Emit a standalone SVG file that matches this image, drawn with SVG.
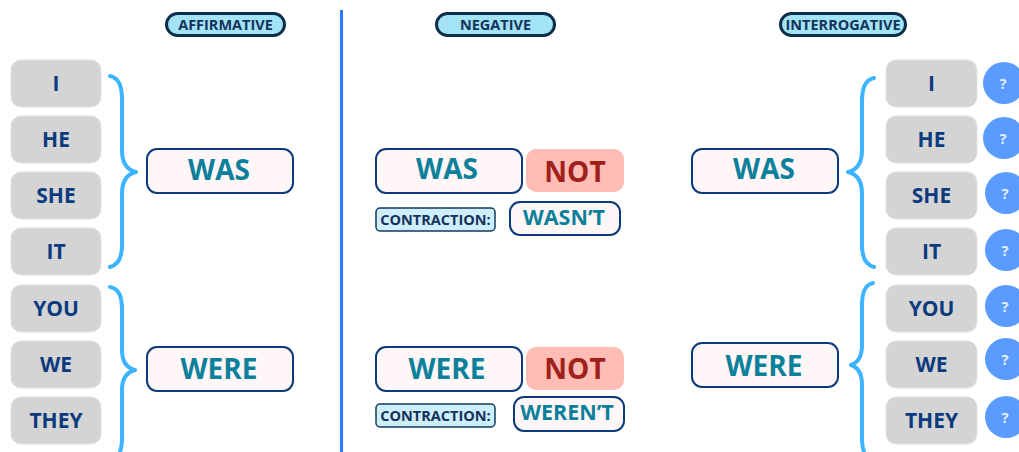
<svg xmlns="http://www.w3.org/2000/svg" width="1019" height="452" viewBox="0 0 1019 452">
<style>
text{font-family:"Open Sans","Liberation Sans",sans-serif;font-weight:700;text-anchor:middle}
.pill{fill:#a3e3f6;stroke:#0c2e4c;stroke-width:3}
.pillt{font-size:14.5px;fill:#15325a}
.pro{fill:#d4d4d4;stroke:#e2e2e2;stroke-width:1}
.prot{font-size:21px;fill:#0c3a7e}
.verb{fill:#fff6f7;stroke:#0d3a7a;stroke-width:2}
.verbt{font-size:28px;fill:#0a809b}
.not{fill:#ffbdb6}
.nott{font-size:28px;fill:#a0201a}
.con{fill:#cdeefb;stroke:#123a5a;stroke-width:1.5}
.cont{font-size:14.5px;fill:#15325a}
.short{font-size:21.5px;fill:#0a809b}
.brace{fill:none;stroke:#3db4ff;stroke-width:4;stroke-linecap:round;stroke-linejoin:round}
.q{fill:#5a9bff}
.qt{font-size:15px;fill:#e4eeff}
</style>
<rect width="1019" height="452" fill="#ffffff"/>
<g id="connectors">
<line x1="341.5" y1="10" x2="341.5" y2="452" stroke="#2a7cff" stroke-width="3"/>
<path class="brace" d="M110,76 C119,78 122,86 122,100 L122,150 C122,163 127,170 136,172 C127,174 122,181 122,194 L122,245 C122,258 118,265 110,267"/>
<path class="brace" d="M110,287 C119,289 122,296 122,310 L122,350 C122,362 127,368 135,370 C127,372 122,378 122,390 L122,440 C122,450 119,456 115,462"/>
<path class="brace" d="M874,78 C865,80 862,88 862,102 L862,150 C862,163 857,170 848,172 C857,174 862,181 862,194 L862,245 C862,258 866,265 874,267"/>
<path class="brace" d="M873,283 C865,285 862,292 862,306 L862,345 C862,357 857,363 851,365 C857,367 862,373 862,385 L862,440 C862,450 865,456 869,462"/>
</g>
<g id="header-affirmative"><rect class="pill" x="166.5" y="13.5" width="118" height="22" rx="11"/><text class="pillt" x="225.5" y="29.5">AFFIRMATIVE</text></g>
<g id="header-negative"><rect class="pill" x="436.5" y="13.5" width="118" height="22" rx="11"/><text class="pillt" x="495.5" y="29.5">NEGATIVE</text></g>
<g id="header-interrogative"><rect class="pill" x="780.5" y="13.5" width="125" height="22" rx="11"/><text class="pillt" x="843" y="29.5">INTERROGATIVE</text></g>

<g id="left-i"><rect class="pro" x="11" y="60" width="90" height="47" rx="10"/><text class="prot" x="56" y="91">I</text></g>
<g id="left-he"><rect class="pro" x="11" y="116" width="90" height="47" rx="10"/><text class="prot" x="56" y="147">HE</text></g>
<g id="left-she"><rect class="pro" x="11" y="172" width="90" height="47" rx="10"/><text class="prot" x="56" y="203">SHE</text></g>
<g id="left-it"><rect class="pro" x="11" y="228" width="90" height="47" rx="10"/><text class="prot" x="56" y="259">IT</text></g>
<g id="left-you"><rect class="pro" x="11" y="285" width="90" height="47" rx="10"/><text class="prot" x="56" y="316">YOU</text></g>
<g id="left-we"><rect class="pro" x="11" y="341" width="90" height="47" rx="10"/><text class="prot" x="56" y="372">WE</text></g>
<g id="left-they"><rect class="pro" x="11" y="397" width="90" height="47" rx="10"/><text class="prot" x="56" y="428">THEY</text></g>

<g id="aff-was"><rect class="verb" x="147" y="149" width="146" height="44" rx="10"/><text class="verbt" x="219" y="180">WAS</text></g>
<g id="aff-were"><rect class="verb" x="147" y="347" width="146" height="44" rx="10"/><text class="verbt" x="219" y="378.5">WERE</text></g>

<g id="neg-was"><rect class="verb" x="376" y="149" width="146" height="44" rx="10"/><text class="verbt" x="447" y="179">WAS</text></g>
<g id="neg-was-not"><rect class="not" x="526" y="149" width="98" height="43" rx="10"/><text class="nott" x="575" y="181.5">NOT</text></g>
<g id="neg-was-contraction-label"><rect class="con" x="376" y="208" width="119" height="23" rx="4"/><text class="cont" x="435.5" y="224.5">CONTRACTION:</text></g>
<g id="neg-wasnt"><rect class="verb" x="510" y="202" width="110" height="33" rx="10"/><text class="short" x="564" y="225">WASN’T</text></g>

<g id="neg-were"><rect class="verb" x="376" y="347" width="146" height="44" rx="10"/><text class="verbt" x="447" y="378.5">WERE</text></g>
<g id="neg-were-not"><rect class="not" x="526" y="347" width="98" height="43" rx="10"/><text class="nott" x="575" y="378.5">NOT</text></g>
<g id="neg-were-contraction-label"><rect class="con" x="376" y="404" width="119" height="23" rx="4"/><text class="cont" x="435.5" y="420.5">CONTRACTION:</text></g>
<g id="neg-werent"><rect class="verb" x="514" y="397" width="110" height="34" rx="10"/><text class="short" x="567" y="420">WEREN’T</text></g>

<g id="int-was"><rect class="verb" x="692" y="149" width="146" height="44" rx="10"/><text class="verbt" x="764" y="179">WAS</text></g>
<g id="int-were"><rect class="verb" x="692" y="343" width="146" height="44" rx="10"/><text class="verbt" x="764" y="375.5">WERE</text></g>

<g id="right-i"><rect class="pro" x="886" y="60" width="91" height="47" rx="10"/><text class="prot" x="931.5" y="91">I</text><circle class="q" cx="1004" cy="83" r="21"/><text class="qt" x="1003" y="88.5">?</text></g>
<g id="right-he"><rect class="pro" x="886" y="116" width="91" height="47" rx="10"/><text class="prot" x="931.5" y="147">HE</text><circle class="q" cx="1004" cy="138" r="21"/><text class="qt" x="1003" y="143.5">?</text></g>
<g id="right-she"><rect class="pro" x="886" y="172" width="91" height="47" rx="10"/><text class="prot" x="931.5" y="203">SHE</text><circle class="q" cx="1006" cy="193" r="21"/><text class="qt" x="1005" y="198.5">?</text></g>
<g id="right-it"><rect class="pro" x="886" y="228" width="91" height="47" rx="10"/><text class="prot" x="931.5" y="259">IT</text><circle class="q" cx="1006" cy="250" r="21"/><text class="qt" x="1005" y="255.5">?</text></g>
<g id="right-you"><rect class="pro" x="886" y="285" width="91" height="47" rx="10"/><text class="prot" x="931.5" y="316">YOU</text><circle class="q" cx="1006" cy="306" r="21"/><text class="qt" x="1005" y="311.5">?</text></g>
<g id="right-we"><rect class="pro" x="886" y="341" width="91" height="47" rx="10"/><text class="prot" x="931.5" y="372">WE</text><circle class="q" cx="1006" cy="359" r="21"/><text class="qt" x="1005" y="364.5">?</text></g>
<g id="right-they"><rect class="pro" x="886" y="397" width="91" height="47" rx="10"/><text class="prot" x="931.5" y="428">THEY</text><circle class="q" cx="1006" cy="417" r="21"/><text class="qt" x="1005" y="422.5">?</text></g>
</svg>
